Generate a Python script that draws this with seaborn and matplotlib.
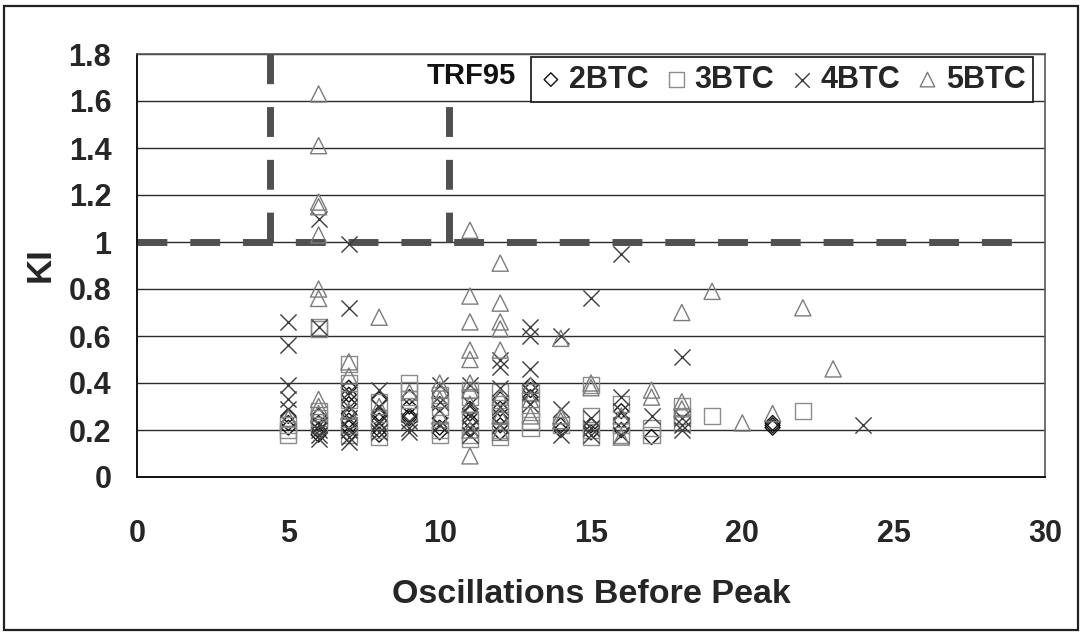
import matplotlib
matplotlib.use("Agg")
import matplotlib.pyplot as plt
from matplotlib.patches import Rectangle
import seaborn as sns
import pandas as pd

# ---------------- data ----------------
btc2_x = [5, 5, 5, 6, 6, 6, 6, 7, 7, 7, 7, 7, 7, 7, 8, 8, 8, 8, 8, 8,
          9, 9, 9, 9, 10, 10, 10, 10, 11, 11, 11, 11, 12, 12, 12, 12, 12,
          13, 13, 13, 14, 14, 15, 15, 16, 16, 16, 17, 21, 21, 21]
btc2_y = [0.26, 0.23, 0.21, 0.26, 0.23, 0.20, 0.18, 0.38, 0.35, 0.31, 0.27, 0.24, 0.21, 0.18,
          0.33, 0.27, 0.26, 0.24, 0.20, 0.18, 0.34, 0.30, 0.26, 0.25, 0.31, 0.25, 0.21, 0.19,
          0.29, 0.27, 0.24, 0.20, 0.33, 0.29, 0.25, 0.22, 0.19, 0.39, 0.37, 0.34, 0.22, 0.20,
          0.22, 0.19, 0.28, 0.24, 0.20, 0.17, 0.23, 0.22, 0.21]

btc3_x = [5, 5, 5, 6, 6, 6, 6, 6, 7, 7, 7, 7, 7, 8, 8, 8, 8, 9, 9, 9, 9,
          10, 10, 10, 10, 11, 11, 11, 11, 11, 12, 12, 12, 12, 12, 13, 13, 13, 13,
          14, 15, 15, 15, 15, 16, 16, 16, 17, 17, 18, 18, 18, 19, 22]
btc3_y = [0.22, 0.20, 0.18, 0.64, 0.63, 0.28, 0.25, 0.22, 0.48, 0.40, 0.33, 0.22, 0.18,
          0.32, 0.25, 0.20, 0.17, 0.40, 0.37, 0.33, 0.27, 0.35, 0.30, 0.20, 0.18,
          0.37, 0.34, 0.24, 0.18, 0.16, 0.36, 0.31, 0.26, 0.20, 0.17, 0.36, 0.29, 0.24, 0.21,
          0.22, 0.39, 0.26, 0.20, 0.17, 0.31, 0.22, 0.18, 0.21, 0.18, 0.30, 0.26, 0.23,
          0.26, 0.28]

btc4_x = [5, 5, 5, 5, 5, 6, 6, 6, 6, 6, 6, 7, 7, 7, 7, 7, 7, 7, 7, 8, 8, 8, 8,
          9, 9, 9, 10, 10, 10, 11, 11, 11, 11, 11, 12, 12, 12, 12, 12,
          13, 13, 13, 13, 13, 14, 14, 14, 15, 15, 15, 15, 16, 16, 16, 16,
          17, 18, 18, 18, 18, 24]
btc4_y = [0.66, 0.56, 0.39, 0.33, 0.29, 1.10, 0.64, 0.22, 0.20, 0.18, 0.16,
          0.99, 0.72, 0.36, 0.30, 0.25, 0.20, 0.17, 0.15, 0.37, 0.30, 0.23, 0.19,
          0.24, 0.21, 0.19, 0.39, 0.32, 0.22, 0.39, 0.31, 0.26, 0.21, 0.18,
          0.50, 0.47, 0.38, 0.30, 0.22, 0.64, 0.60, 0.46, 0.36, 0.31,
          0.60, 0.29, 0.18, 0.76, 0.25, 0.21, 0.18, 0.95, 0.34, 0.28, 0.18,
          0.26, 0.51, 0.25, 0.22, 0.20, 0.22]

btc5_x = [5, 6, 6, 6, 6, 6, 6, 6, 6, 6, 6, 7, 7, 7, 8, 8, 9, 10, 10, 10, 10,
          11, 11, 11, 11, 11, 11, 11, 11, 11, 11, 12, 12, 12, 12, 12, 12, 12, 12,
          13, 13, 13, 14, 14, 14, 15, 15, 16, 16, 17, 17, 18, 18, 18,
          19, 20, 21, 22, 23]
btc5_y = [0.25, 1.63, 1.41, 1.17, 1.15, 1.03, 0.80, 0.76, 0.33, 0.30, 0.27,
          0.49, 0.43, 0.28, 0.68, 0.30, 0.36, 0.40, 0.37, 0.33, 0.26,
          1.05, 0.77, 0.66, 0.54, 0.50, 0.40, 0.37, 0.31, 0.20, 0.09,
          0.91, 0.74, 0.66, 0.63, 0.54, 0.34, 0.26, 0.19,
          0.39, 0.33, 0.26, 0.59, 0.26, 0.24, 0.40, 0.38, 0.26, 0.17,
          0.37, 0.34, 0.70, 0.32, 0.29, 0.79, 0.23, 0.27, 0.72, 0.46]

series_names = ["2BTC", "3BTC", "4BTC", "5BTC"]

# TRF95 threshold lines
limit_x = [0, 29]
limit_y = [1.0, 1.0]
trf_a_x = [4.4, 4.4]
trf_a_y = [1.0, 1.8]
trf_b_x = [10.3, 10.3]
trf_b_y = [1.0, 1.58]

x_ticks = [0, 5, 10, 15, 20, 25, 30]
y_ticks = [0, 0.2, 0.4, 0.6, 0.8, 1.0, 1.2, 1.4, 1.6, 1.8]

# ---------------- styling ----------------
sns.set_theme(style="white")
plt.rcParams["font.family"] = ["Liberation Sans", "DejaVu Sans"]
plt.rcParams["font.weight"] = "bold"

W, H = 1084, 636
fig = plt.figure(figsize=(W / 100, H / 100), dpi=100)
fig.patch.set_facecolor("white")
ax = fig.add_axes([137 / W, 1 - 477 / H, (1045 - 137) / W, (477 - 54) / H])

# outer chart border
fig.patches.append(Rectangle((4 / W, 6 / H), 1074 / W, 624 / H, transform=fig.transFigure,
                             fill=False, edgecolor="#222222", linewidth=1.6, zorder=0))

frames = {
    "2BTC": pd.DataFrame({"x": btc2_x, "y": btc2_y}),
    "3BTC": pd.DataFrame({"x": btc3_x, "y": btc3_y}),
    "4BTC": pd.DataFrame({"x": btc4_x, "y": btc4_y}),
    "5BTC": pd.DataFrame({"x": btc5_x, "y": btc5_y}),
}
style = {
    "2BTC": dict(marker="D", s=58, color="#111111", filled=True),
    "3BTC": dict(marker="s", s=135, color="#8c8c8c", filled=True),
    "4BTC": dict(marker="x", s=135, color="#3c3c3c", filled=False),
    "5BTC": dict(marker="^", s=135, color="#7c7c7c", filled=True),
}

# reference lines
line_kw = dict(color="#505050", linewidth=5, dashes=(4.3, 3.3), zorder=2)
sns.lineplot(x=limit_x, y=limit_y, ax=ax, **line_kw)
sns.lineplot(x=trf_a_x, y=trf_a_y, ax=ax, sort=False, estimator=None, **line_kw)
sns.lineplot(x=trf_b_x, y=trf_b_y, ax=ax, sort=False, estimator=None, **line_kw)

handles = []
for name in series_names:
    st = style[name]
    kw = dict(marker=st["marker"], s=st["s"], linewidth=1.0, zorder=3)
    if st["filled"]:
        kw.update(facecolor="none", edgecolor=st["color"])
    else:
        kw.update(color=st["color"])
    sns.scatterplot(data=frames[name], x="x", y="y", ax=ax, legend=False, **kw)
    handles.append(ax.collections[-1])

ax.set_xlim(0, 30)
ax.set_ylim(0, 1.8)
ax.set_xticks(x_ticks)
ax.set_yticks(y_ticks)
ax.set_yticklabels([f"{v:g}" for v in y_ticks])
ax.set_xticklabels([str(v) for v in x_ticks])
ax.yaxis.grid(True, color="#2a2a2a", linewidth=1.0)
ax.xaxis.grid(False)
ax.set_axisbelow(True)

for side in ["left", "bottom"]:
    ax.spines[side].set_color("#111111")
    ax.spines[side].set_linewidth(1.4)
for side in ["top", "right"]:
    ax.spines[side].set_color("#555555")
    ax.spines[side].set_linewidth(1.2)

ax.tick_params(axis="x", direction="out", length=8, width=1.2, color="#111111",
               pad=22, labelsize=22)
ax.tick_params(axis="y", direction="out", length=7.5, width=1.0, color="#111111",
               pad=11, labelsize=22)
for lab in ax.get_xticklabels() + ax.get_yticklabels():
    lab.set_fontweight("bold")

ax.set_xlabel("Oscillations Before Peak", fontsize=24.5, fontweight="bold", va="center")
ax.set_ylabel("KI", fontsize=25, fontweight="bold", va="center")
ax.xaxis.set_label_coords(0.5, -0.277)
ax.yaxis.set_label_coords(-0.107, 0.502)

ax.text(9.58, 1.706, "TRF95", fontsize=21, fontweight="bold", ha="left", va="center",
        color="#111111", zorder=4)

leg = ax.legend(handles, series_names, ncol=4, loc="upper right",
                bbox_to_anchor=(0.987, 0.993), borderaxespad=0, frameon=True,
                fancybox=False, framealpha=1, edgecolor="#111111",
                prop={"weight": "bold", "size": 22},
                handletextpad=0.2, columnspacing=0.5, borderpad=0.25,
                handlelength=0.8, markerscale=0.9)
leg.get_frame().set_linewidth(1.2)

fig.savefig("out.png", dpi=100)
